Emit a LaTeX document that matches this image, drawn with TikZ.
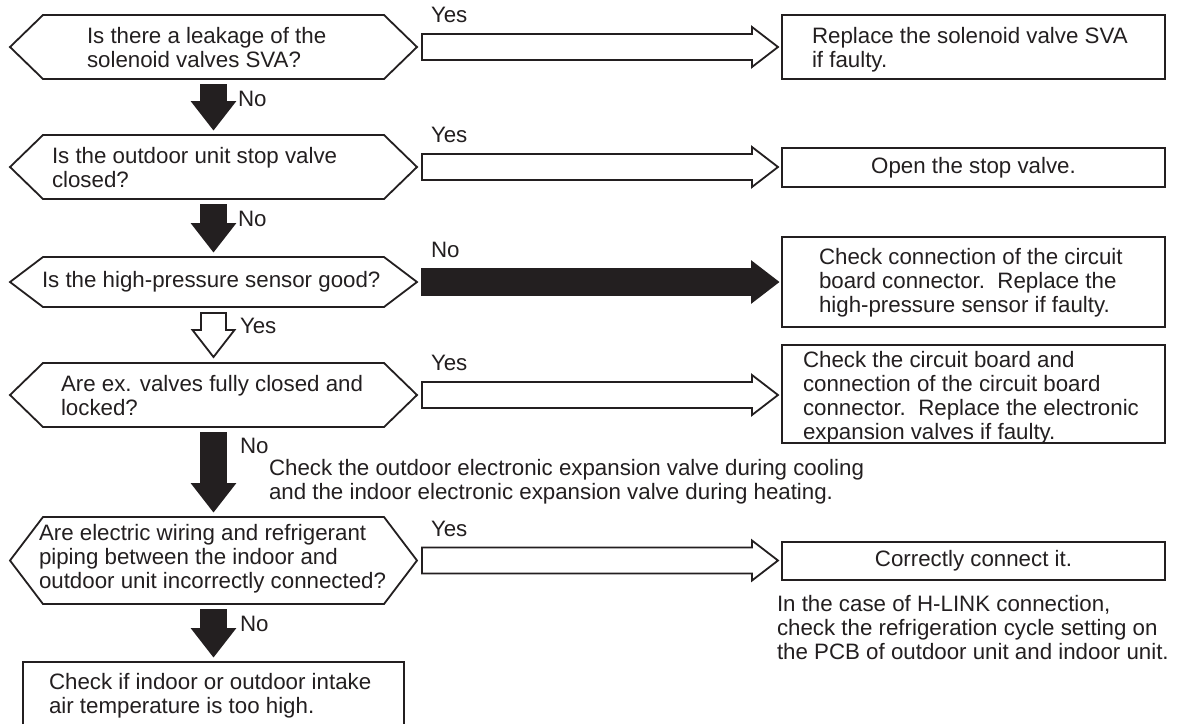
\documentclass[tikz,border=0pt]{standalone}
\usepackage{fontspec}
\setmainfont{Liberation Sans}
\usetikzlibrary{calc}
\definecolor{ink}{HTML}{231F20}
\tikzset{
  ln/.style={draw=ink, line width=1.8pt, line join=miter},
  frame/.style={draw=none, inner sep=0pt, outer sep=0pt},
  txt/.style={inner sep=0pt, outer sep=0pt, align=left, text=ink, anchor=west,
    font=\fontsize{22.3}{23.8}\selectfont},
  ctxt/.style={txt, anchor=center, align=center},
  hollowarrow/.style={ln, fill=white},
  solidarrow/.style={ln, fill=ink},
}
\newcommand{\HexOutline}[1]{%
  \draw[ln] (#1.west) -- ([xshift=33pt]#1.north west) -- ([xshift=-33pt]#1.north east)
    -- (#1.east) -- ([xshift=-33pt]#1.south east) -- ([xshift=33pt]#1.south west) -- cycle;}
\newcommand{\RArrow}[3]{%
  \draw[#1] let \p1=(#2.east), \p2=(#3.west) in
    (\x1+5pt,\y1+13pt) -- (\x2-30pt,\y1+13pt) -- (\x2-30pt,\y1+20pt) -- (\x2-4pt,\y1)
    -- (\x2-30pt,\y1-20pt) -- (\x2-30pt,\y1-13pt) -- (\x1+5pt,\y1-13pt) -- cycle;}
\newcommand{\DArrow}[3]{%
  \draw[#1] let \p1=(#2.south), \p2=(#3.north) in
    (\x1-12.5pt,\y1-6pt) -- (\x1-12.5pt,\y2+33pt) -- (\x1-21pt,\y2+33pt) -- (\x1,\y2+6pt)
    -- (\x1+21pt,\y2+33pt) -- (\x1+12.5pt,\y2+33pt) -- (\x1+12.5pt,\y1-6pt) -- cycle;}
\begin{document}
\begin{tikzpicture}[x=1pt,y=-1pt]
\useasboundingbox[fill=white] (0,0) rectangle (1186,724);

% decision hexagons
\node[frame, minimum width=407pt, minimum height=64pt] (q1) at (213.5,47) {};
\node[frame, minimum width=407pt, minimum height=64pt] (q2) at (213.5,167) {};
\node[frame, minimum width=407pt, minimum height=50pt] (q3) at (213.5,282) {};
\node[frame, minimum width=407pt, minimum height=64pt] (q4) at (213.5,395) {};
\node[frame, minimum width=407pt, minimum height=87pt] (q5) at (213.5,560.5) {};
\foreach \q in {q1,q2,q3,q4,q5} {\HexOutline{\q}}

\node[txt] (t1) at (87,50.4) {\strut Is there a leakage of the\\solenoid valves SVA?\strut};
\node[txt] (t2) at (52,170.4) {\strut Is the outdoor unit stop valve\\closed?\strut};
\node[txt] (t3) at (42,283.2) {\strut Is the high-pressure sensor good?};
\node[txt] (t4) at (61,399.1) {\strut Are ex. valves fully closed and\\locked?\strut};
\node[txt] (t5) at (39,560) {\strut Are electric wiring and refrigerant\\piping between the indoor and\\outdoor unit incorrectly connected?\strut};

% action boxes
\node[frame, ln, minimum width=383pt, minimum height=64pt] (a1) at (973.5,47) {};
\node[frame, ln, minimum width=383pt, minimum height=39pt] (a2) at (973.5,167.5) {};
\node[frame, ln, minimum width=383pt, minimum height=90pt] (a3) at (973.5,282) {};
\node[frame, ln, minimum width=383pt, minimum height=98pt] (a4) at (973.5,394) {};
\node[frame, ln, minimum width=383pt, minimum height=38pt] (a5) at (973.5,561) {};
\node[frame, minimum width=381pt, minimum height=62pt] (a6) at (213.5,693) {};
\draw[ln] (a6.south west) -- (a6.north west) -- (a6.north east) -- (a6.south east);

\node[txt] (b1) at (812,50.4) {\strut Replace the solenoid valve SVA\\if faulty.\strut};
\node[ctxt] (b2) at (973.5,168.7) {\strut Open the stop valve.};
\node[txt] (b3) at (819,284) {\strut Check connection of the circuit\\board connector.\ \ Replace the\\high-pressure sensor if faulty.\strut};
\node[txt] (b4) at (803,398.9) {\strut Check the circuit board and\\connection of the circuit board\\connector.\ \ Replace the electronic\\expansion valves if faulty.\strut};
\node[ctxt] (b5) at (973.5,562.2) {\strut Correctly connect it.};
\node[txt] (b6) at (49,697.1) {\strut Check if indoor or outdoor intake\\air temperature is too high.\strut};

% notes
\node[txt] (n1) at (269,483.1) {\strut Check the outdoor electronic expansion valve during cooling\\and the indoor electronic expansion valve during heating.\strut};
\node[txt] (n2) at (777,631) {\strut In the case of H-LINK connection,\\check the refrigeration cycle setting on\\the PCB of outdoor unit and indoor unit.\strut};

% horizontal arrows
\RArrow{hollowarrow}{q1}{a1}
\RArrow{hollowarrow}{q2}{a2}
\RArrow{solidarrow}{q3}{a3}
\RArrow{hollowarrow}{q4}{a4}
\RArrow{hollowarrow}{q5}{a5}
\node[txt] (l1) at (431,17.8) {\strut Yes};
\node[txt] (l2) at (431,137.8) {\strut Yes};
\node[txt] (l3) at (431,252.8) {\strut No};
\node[txt] (l4) at (431,365.8) {\strut Yes};
\node[txt] (l5) at (431,531.3) {\strut Yes};

% vertical arrows
\DArrow{solidarrow}{q1}{q2}
\DArrow{solidarrow}{q2}{q3}
\DArrow{hollowarrow}{q3}{q4}
\DArrow{solidarrow}{q4}{q5}
\DArrow{solidarrow}{q5}{a6}
\node[txt] (d1) at (238,101.7) {\strut No};
\node[txt] (d2) at (238,221.5) {\strut No};
\node[txt] (d3) at (240,329) {\strut Yes};
\node[txt] (d4) at (240,449) {\strut No};
\node[txt] (d5) at (240,627) {\strut No};
\end{tikzpicture}
\end{document}
